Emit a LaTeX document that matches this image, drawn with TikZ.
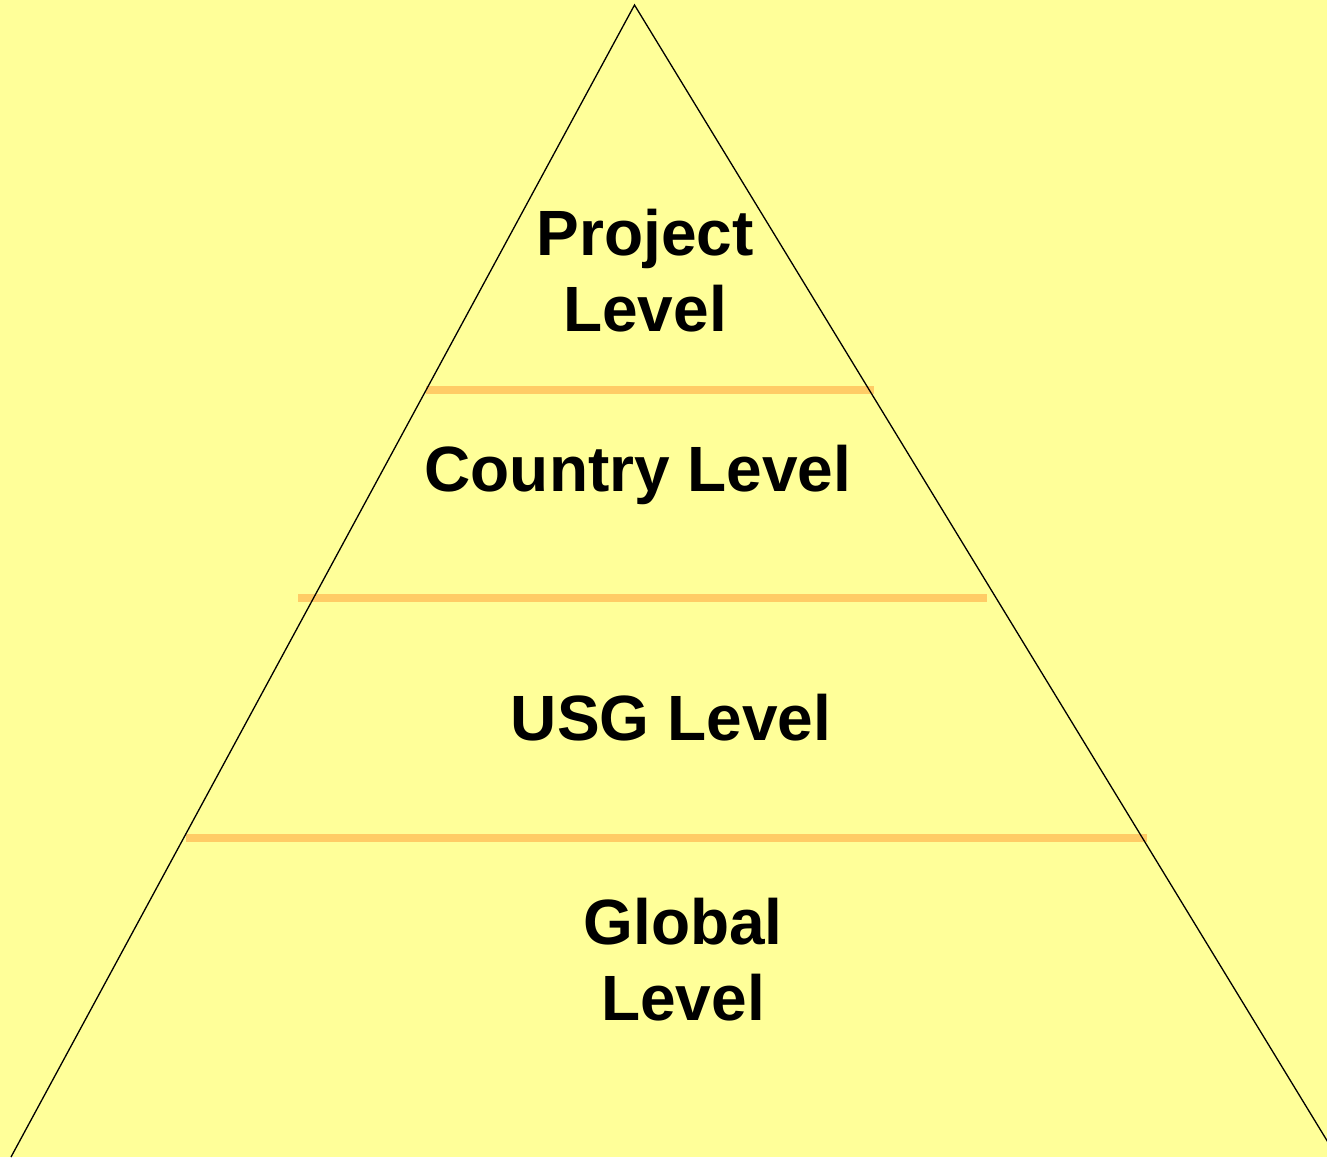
\documentclass[tikz,border=0pt]{standalone}
\usepackage{fontspec}
\setmainfont{Liberation Sans}
\definecolor{bgyellow}{HTML}{FFFF99}
\definecolor{bandorange}{HTML}{FFCC66}
\begin{document}
\begin{tikzpicture}[x=1pt,y=-1pt,
  band/.style={draw=bandorange,line width=8pt},
  lbl/.style={font=\fontsize{64}{76}\selectfont\bfseries,align=center,inner sep=0pt}]
\path[fill=bgyellow,use as bounding box] (0,0) rectangle (1327,1157);
\begin{scope}
\clip (0,0) rectangle (1327,1157);
\coordinate (apex) at (634.5,5);
\coordinate (bl) at (11,1157);
\coordinate (br) at (1337,1157);
\draw[band] (426,390) -- (874,390);
\draw[band] (298,598) -- (987,598);
\draw[band] (186,838) -- (1147,838);
\draw[line width=1.3pt] (bl) -- (apex) -- (br);
\end{scope}
\node[lbl] (project) at (645,271) {Project\\Level};
\node[lbl] (country) at (638,475) {Country Level};
\node[lbl] (usg) at (671,718) {USG Level};
\node[lbl] (global) at (683,960) {Global\\Level};
\end{tikzpicture}
\end{document}
